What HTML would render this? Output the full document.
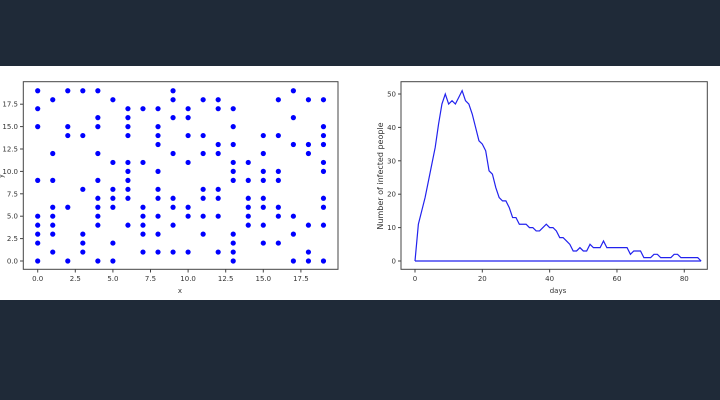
<!DOCTYPE html>
<html><head><meta charset="utf-8"><style>
html,body{margin:0;padding:0;width:720px;height:400px;background:#1f2a38;overflow:hidden}
#band{position:absolute;left:0;top:66px;width:720px;height:234px;background:#fff}
svg{position:absolute;left:0;top:0}
text{font-family:"DejaVu Sans","Liberation Sans",sans-serif;font-size:7px;fill:#333}
</style></head><body>
<div id="band"></div>
<svg id="c" width="720" height="400"></svg>
<script>
const scatterCols=[0,1,2,3,4,5,6,7,8,9,10,11,12,13,14,15,16,17,18,19];
const scatterYs=[[19,17,15,9,5,4,3,2,0],[18,12,9,6,5,4,3,1],[19,15,14,6,0],[19,14,8,3,2,1],[19,16,15,12,9,7,6,5,4,0],[18,11,8,7,6,2,0],[17,16,15,14,11,10,9,8,7,4],[17,11,6,5,4,3,1],[17,15,14,13,10,8,7,5,3,1],[19,18,16,12,7,6,4,1],[17,16,14,11,6,5,1],[18,14,12,8,7,5,3],[18,17,13,12,8,7,5,1],[17,15,13,11,10,9,3,2,1,0],[11,9,7,6,5,4],[14,12,10,9,7,6,4,2],[18,14,10,9,6,5,2],[19,16,13,5,3,0],[18,13,12,4,1,0],[18,15,14,13,11,10,7,6,4,0]];
const scatterXTicks=[0,2.5,5,7.5,10,12.5,15,17.5];
const scatterYTicks=[0,2.5,5,7.5,10,12.5,15,17.5];
const infected=[0,11,15,19,24,29,34,41,47,50,47,48,47,49,51,48,47,44,40,36,35,33,27,26,22,19,18,18,16,13,13,11,11,11,10,10,9,9,10,11,10,10,9,7,7,6,5,3,3,4,3,3,5,4,4,4,6,4,4,4,4,4,4,4,2,3,3,3,1,1,1,2,2,1,1,1,1,2,2,1,1,1,1,1,1,0];
const lineXTicks=[0,20,40,60,80];
const lineYTicks=[0,10,20,30,40,50];
const NS='http://www.w3.org/2000/svg';
const svg=document.getElementById('c');
function mk(tag,attrs,parent){const e=document.createElementNS(NS,tag);for(const k in attrs)e.setAttribute(k,attrs[k]);(parent||svg).appendChild(e);return e;}
const sx=v=>37.7+v*15.04, sy=v=>261-v*8.96;
const g1=mk('g',{});


let fr=mk('rect',{x:23.3,y:81.7,width:314.7,height:187.6,fill:'none',stroke:'#444','stroke-width':1},g1);


scatterXTicks.forEach(t=>{mk('line',{x1:sx(t),x2:sx(t),y1:269.3,y2:272.5,stroke:'#444'},g1);const tx=mk('text',{x:sx(t),y:281,'text-anchor':'middle'},g1);tx.textContent=t.toFixed(1);

});
scatterYTicks.forEach(t=>{mk('line',{x1:20,x2:23.3,y1:sy(t),y2:sy(t),stroke:'#444'},g1);const tx=mk('text',{x:18,y:sy(t)+2.5,'text-anchor':'end'},g1);tx.textContent=t.toFixed(1);

});
let xl=mk('text',{x:180,y:293,'text-anchor':'middle'},g1);xl.textContent='x';


let yl=mk('text',{x:0,y:0,'text-anchor':'middle',transform:'translate(3,176) rotate(-90)'},g1);yl.textContent='y';


scatterCols.forEach((c,i)=>scatterYs[i].forEach(v=>{const p=mk('circle',{cx:sx(c),cy:sy(v),r:2.6,fill:'#0000ff'},g1);

}));
const lx=v=>415+v*3.366, ly=v=>261-v*3.34;
const g2=mk('g',{});


let fr2=mk('rect',{x:401,y:81.7,width:306.3,height:187.6,fill:'none',stroke:'#444','stroke-width':1},g2);


lineXTicks.forEach(t=>{mk('line',{x1:lx(t),x2:lx(t),y1:269.3,y2:272.5,stroke:'#444'},g2);const tx=mk('text',{x:lx(t),y:281,'text-anchor':'middle'},g2);tx.textContent=t;

});
lineYTicks.forEach(t=>{mk('line',{x1:398,x2:401,y1:ly(t),y2:ly(t),stroke:'#444'},g2);const tx=mk('text',{x:396,y:ly(t)+2.5,'text-anchor':'end'},g2);tx.textContent=t;

});
let xl2=mk('text',{x:558,y:293,'text-anchor':'middle'},g2);xl2.textContent='days';


let yl2=mk('text',{x:0,y:0,'text-anchor':'middle',style:'font-size:8px',transform:'translate(383,176) rotate(-90)'},g2);yl2.textContent='Number of infected people';


let base=mk('line',{x1:lx(0),x2:lx(infected.length-1),y1:ly(0),y2:ly(0),stroke:'#2222ee','stroke-width':1.3},g2);


let pl=mk('polyline',{points:infected.map((v,i)=>lx(i)+','+ly(v)).join(' '),fill:'none',stroke:'#2222ee','stroke-width':1.2},g2);


</script>
</body></html>
